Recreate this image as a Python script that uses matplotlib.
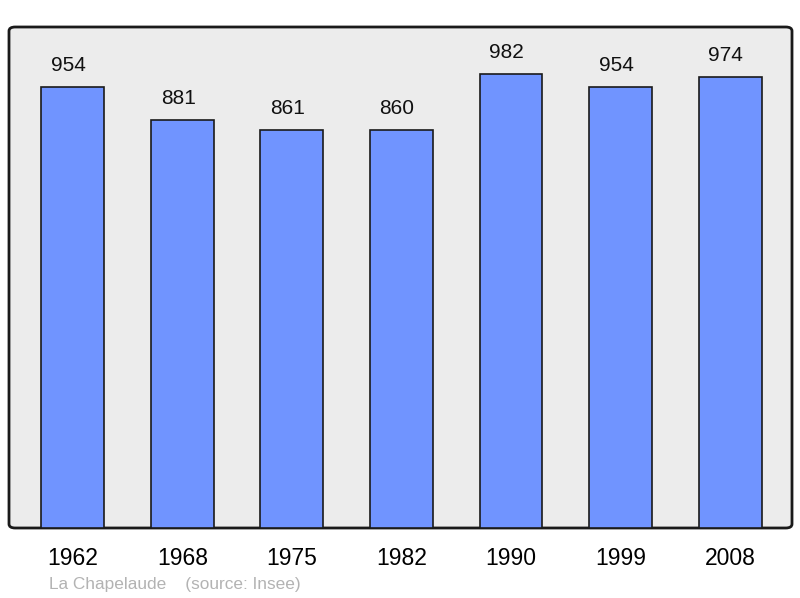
import matplotlib
matplotlib.use('Agg')
import matplotlib.pyplot as plt
from matplotlib.patches import FancyBboxPatch

plt.rcParams['font.family'] = ['Liberation Sans', 'DejaVu Sans']

years = ['1962', '1968', '1975', '1982', '1990', '1999', '2008']
population = [954, 881, 861, 860, 982, 954, 974]
place = 'La Chapelaude'
source = '(source: Insee)'

fig = plt.figure(figsize=(8, 5.98), dpi=100)
W, H = 800, 598
left, right, top, bottom = 9, 792, 27, 528
ax = fig.add_axes([left / W, 1 - bottom / H, (right - left) / W, (bottom - top) / H])
ax.set_facecolor('none')

# rounded grey background with dark border
frame = FancyBboxPatch((0, 0), 1, 1, boxstyle='round,pad=0,rounding_size=0.008',
                       transform=ax.transAxes, facecolor='#ececec',
                       edgecolor='#1a1a1a', linewidth=2, zorder=0, clip_on=False)
ax.add_patch(frame)

x = list(range(len(years)))
ax.bar(x, population, width=0.575, color='#7094ff', edgecolor='#1a1a1a', linewidth=1.2, zorder=2)
for xi, v in zip(x, population):
    ax.text(xi - 0.04, v + 26, str(v), ha='center', va='bottom', fontsize=15, color='#111111')

ax.set_xlim(-0.584, 6.566)
ax.set_ylim(0, 1083)
for s in ax.spines.values():
    s.set_visible(False)
ax.set_yticks([])
ax.set_xticks(x)
ax.set_xticklabels(years, fontsize=16.5)
ax.tick_params(axis='x', length=0, pad=14)

fig.text(49 / W, 1 - 584 / H, place + '    ' + source, fontsize=12.4, color='#b3b3b3',
         ha='left', va='center')

fig.savefig('out.png', dpi=100)
